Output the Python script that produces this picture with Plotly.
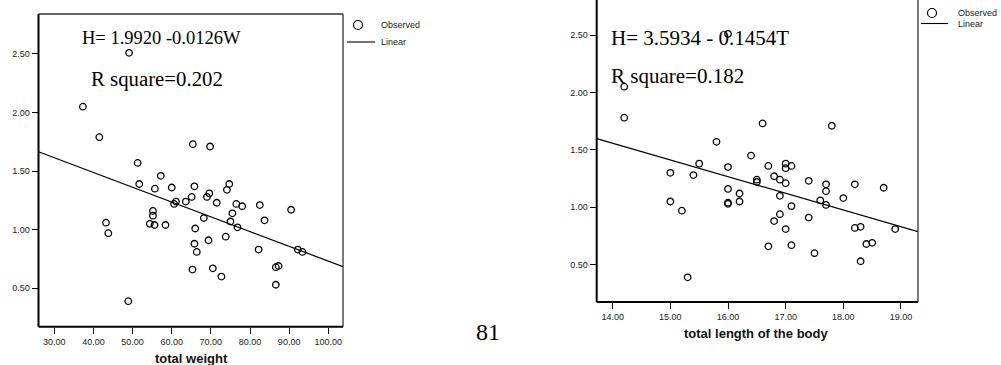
import plotly.graph_objects as go

# ---------------- data ----------------
weight = [49.1, 37.3, 41.5, 65.4, 69.8, 51.3, 57.2, 51.7, 55.7, 60.0, 65.8, 74.7, 74.1,
          69.6, 69.0, 65.1, 63.6, 61.1, 60.6, 71.5, 76.5, 78.0, 82.5, 90.5, 55.2, 55.2,
          75.5, 68.2, 83.7, 43.2, 54.4, 55.6, 58.4, 75.0, 76.8, 66.0, 43.8, 69.4, 73.8,
          65.8, 66.4, 82.2, 92.2, 93.4, 86.6, 87.3, 65.3, 70.5, 72.7, 86.6, 48.9]
h_weight = [2.51, 2.05, 1.79, 1.73, 1.71, 1.57, 1.46, 1.39, 1.35, 1.36, 1.37, 1.39, 1.34,
            1.31, 1.28, 1.28, 1.24, 1.24, 1.22, 1.23, 1.22, 1.20, 1.21, 1.17, 1.16, 1.12,
            1.14, 1.10, 1.08, 1.06, 1.05, 1.04, 1.04, 1.07, 1.02, 1.01, 0.97, 0.91, 0.94,
            0.88, 0.81, 0.83, 0.83, 0.81, 0.68, 0.69, 0.66, 0.67, 0.60, 0.53, 0.39]

length = [16.0, 14.2, 14.2, 16.6, 17.8, 15.8, 16.4, 15.5, 16.0, 16.7, 17.0, 17.1, 17.0,
          15.0, 15.4, 16.5, 16.5, 16.8, 16.9, 17.0, 17.4, 17.7, 18.2, 17.7, 18.7, 16.0,
          16.2, 16.9, 18.0, 17.6, 15.0, 16.2, 16.0, 16.0, 17.1, 17.7, 15.2, 16.9, 17.4,
          16.8, 18.2, 18.3, 17.0, 18.9, 18.4, 18.5, 16.7, 17.1, 17.5, 18.3, 15.3]
h_length = [2.51, 2.05, 1.78, 1.73, 1.71, 1.57, 1.45, 1.38, 1.35, 1.36, 1.38, 1.36, 1.34,
             1.30, 1.28, 1.24, 1.22, 1.27, 1.24, 1.21, 1.23, 1.20, 1.20, 1.14, 1.17, 1.16,
             1.12, 1.10, 1.08, 1.06, 1.05, 1.05, 1.04, 1.03, 1.01, 1.02, 0.97, 0.94, 0.91,
             0.88, 0.82, 0.83, 0.81, 0.81, 0.68, 0.69, 0.66, 0.67, 0.60, 0.53, 0.39]

# regression coefficients (intercept, slope)
coef_weight = [1.9920, -0.0126]
coef_length = [3.5934, -0.1454]

x_ticks_weight = [30, 40, 50, 60, 70, 80, 90, 100]
x_ticks_length = [14, 15, 16, 17, 18, 19]
y_ticks = [0.5, 1.0, 1.5, 2.0, 2.5]

range_x_weight = [25.96, 103.76]
range_y_weight = [0.172, 2.841]
range_x_length = [13.723, 19.295]
range_y_length = [0.175, 2.805]

eq_texts = ["H= 1.9920 -0.0126W", "H= 3.5934 - 0.1454T"]
r2_texts = ["R square=0.202", "R square=0.182"]
x_titles = ["total weight", "total length of the body"]
legend_names = ["Observed", "Linear"]
page_number = "81"

W, H = 1001, 365
def px(x): return x / W
def py(y): return 1 - y / H

fig = go.Figure()

marker = dict(symbol="circle-open", size=6.5, color="black", line=dict(width=1.3, color="black"))

fig.add_trace(go.Scatter(x=weight, y=h_weight, mode="markers", marker=marker,
                         xaxis="x", yaxis="y", showlegend=False, hoverinfo="skip"))
fig.add_trace(go.Scatter(x=range_x_weight,
                         y=[coef_weight[0] + coef_weight[1] * v for v in range_x_weight],
                         mode="lines", line=dict(color="black", width=1.2),
                         xaxis="x", yaxis="y", showlegend=False, hoverinfo="skip"))
fig.add_trace(go.Scatter(x=length, y=h_length, mode="markers", marker=marker,
                         xaxis="x2", yaxis="y2", showlegend=False, hoverinfo="skip"))
fig.add_trace(go.Scatter(x=range_x_length,
                         y=[coef_length[0] + coef_length[1] * v for v in range_x_length],
                         mode="lines", line=dict(color="black", width=1.2),
                         xaxis="x2", yaxis="y2", showlegend=False, hoverinfo="skip"))

tickfont = dict(family="Arial, Liberation Sans", size=9, color="#222")
common = dict(showgrid=False, zeroline=False, showline=False, ticks="outside",
              ticklen=6, tickwidth=1, tickcolor="black", tickfont=tickfont,
              tickformat=".2f", fixedrange=True)

fig.update_layout(
    width=W, height=H, margin=dict(l=0, r=0, t=0, b=0),
    paper_bgcolor="white", plot_bgcolor="white",
    xaxis=dict(domain=[px(38.5), px(343)], range=range_x_weight, tickvals=x_ticks_weight,
               anchor="y", **common),
    yaxis=dict(domain=[py(326.7), py(14)], range=range_y_weight, tickvals=y_ticks,
               anchor="x", **common),
    xaxis2=dict(domain=[px(596.7), px(918)], range=range_x_length, tickvals=x_ticks_length,
                anchor="y2", **common),
    yaxis2=dict(domain=[py(302), 1.0], range=range_y_length, tickvals=y_ticks,
                anchor="x2", **common),
)

shapes = []
# frames: left & bottom thick, top & right thin
for xr, yr, top in (("x", "y", True), ("x2", "y2", False)):
    xd, yd = xr + " domain", yr + " domain"
    shapes.append(dict(type="line", xref=xd, yref=yd, x0=0, x1=0, y0=0, y1=1,
                       line=dict(color="black", width=2)))
    shapes.append(dict(type="line", xref=xd, yref=yd, x0=0, x1=1, y0=0, y1=0,
                       line=dict(color="black", width=2)))
    shapes.append(dict(type="line", xref=xd, yref=yd, x0=1, x1=1, y0=0, y1=1,
                       line=dict(color="#222", width=1.2)))
    if top:
        shapes.append(dict(type="line", xref=xd, yref=yd, x0=0, x1=1, y0=1, y1=1,
                           line=dict(color="#333", width=1.3)))

# legends
annotations = []
for (cx, cy, lx0, lx1, ly, tx) in ((358, 25, 347, 375, 42, 379), (932, 13, 921, 948, 23.5, 956)):
    r = 4.5
    shapes.append(dict(type="circle", xref="paper", yref="paper",
                       x0=px(cx - r), x1=px(cx + r), y0=py(cy + r), y1=py(cy - r),
                       line=dict(color="black", width=1.2)))
    shapes.append(dict(type="line", xref="paper", yref="paper",
                       x0=px(lx0), x1=px(lx1), y0=py(ly), y1=py(ly),
                       line=dict(color="black", width=1.1)))
    annotations.append(dict(text=legend_names[0], x=px(tx), y=py(cy), xref="paper", yref="paper",
                            xanchor="left", yanchor="middle", showarrow=False,
                            font=dict(family="Arial, Liberation Sans", size=9, color="#222")))
    annotations.append(dict(text=legend_names[1], x=px(tx), y=py(ly), xref="paper", yref="paper",
                            xanchor="left", yanchor="middle", showarrow=False,
                            font=dict(family="Arial, Liberation Sans", size=9, color="#222")))

serif = "Liberation Serif, Times New Roman, serif"
for (text, x, y, size) in ((eq_texts[0], 80, 38, 18.5), (r2_texts[0], 89, 79, 20.8),
                           (eq_texts[1], 609, 38, 21), (r2_texts[1], 609, 76, 21)):
    annotations.append(dict(text=text, x=px(x), y=py(y), xref="paper", yref="paper",
                            xanchor="left", yanchor="middle", showarrow=False,
                            font=dict(family=serif, size=size, color="black")))

for (text, x, y) in ((x_titles[0], 191, 358), (x_titles[1], 756, 333)):
    annotations.append(dict(text="<b>" + text + "</b>", x=px(x), y=py(y), xref="paper",
                            yref="paper", xanchor="center", yanchor="middle", showarrow=False,
                            font=dict(family="Arial, Liberation Sans", size=13, color="#111")))

annotations.append(dict(text=page_number, x=px(488), y=py(332), xref="paper", yref="paper",
                        xanchor="center", yanchor="middle", showarrow=False,
                        font=dict(family=serif, size=24, color="black")))

fig.update_layout(shapes=shapes, annotations=annotations)
fig.write_html("out.html", config={"displayModeBar": False, "staticPlot": True},
               post_script="document.body.style.margin='0px';document.body.style.overflow='hidden';")
